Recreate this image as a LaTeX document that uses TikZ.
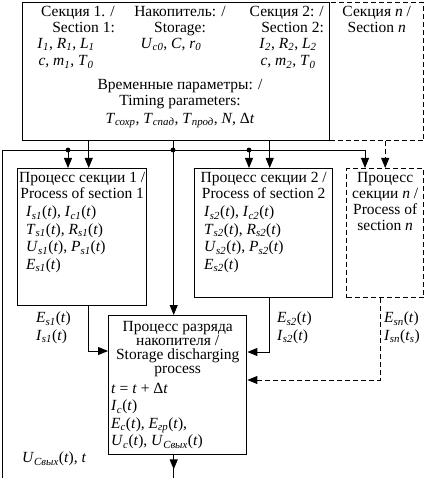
\documentclass[tikz,border=0pt]{standalone}
\usepackage{fontspec}
\setmainfont{Liberation Serif}
\usetikzlibrary{positioning,arrows.meta}
\newcommand\iv[2]{\textit{#1}\textsubscript{\itshape #2}}
\newcommand\ft{(\textit{t})}

\begin{document}
\begin{tikzpicture}[x=1pt, y=-1pt,
    box/.style={draw, line width=1.4pt, inner sep=0pt, anchor=north west},
    dbox/.style={box, dash pattern=on 5pt off 3pt},
    txt/.style={inner sep=0pt, align=center, font=\fontsize{15.5}{16}\selectfont},
    ltxt/.style={txt, align=left},
    vtxt/.style={txt, font=\fontsize{15.5}{17.5}\selectfont},
    lvtxt/.style={vtxt, align=left},
    con/.style={line width=0.9pt},
    arr/.style={con, -{Triangle[length=10pt, width=8pt]}},
    darr/.style={arr, dash pattern=on 5pt off 3pt},
    dot/.style={circle, fill, inner sep=1.7pt}]
  \useasboundingbox (0,0) rectangle (425,478);

  \node[box, minimum width=307pt, minimum height=138pt] (inp) at (22,2) {};
  \node[dbox, minimum width=94pt, minimum height=138pt] (inpn) at (329,2) {};
  \node[box, minimum width=129pt, minimum height=137pt] (p1) at (17,168) {};
  \node[box, minimum width=138pt, minimum height=129pt] (p2) at (194,168) {};
  \node[dbox, minimum width=77pt, minimum height=129pt] (pn) at (346,168) {};
  \node[box, minimum width=138pt, minimum height=139pt] (dis) at (108,315) {};

  \node[txt, align=right, anchor=north east] (s1h) at (115,6) {Секция 1. /\\Section 1:};
  \node[vtxt, anchor=north] (s1v) at (66,38) {\iv{I}{1}, \iv{R}{1}, \iv{L}{1}\\\textit{c}, \iv{m}{1}, \iv{T}{0}};
  \node[txt, anchor=north] (sth) at (180,6) {Накопитель: /\\Storage:};
  \node[txt, anchor=north] (stv) at (171,38) {\iv{U}{c0}, \textit{C}, \iv{r}{0}};
  \node[txt, align=right, anchor=north east] (s2h) at (324,6) {Секция 2: /\\Section 2:};
  \node[vtxt, anchor=north] (s2v) at (288,38) {\iv{I}{2}, \iv{R}{2}, \iv{L}{2}\\\textit{c}, \iv{m}{2}, \iv{T}{0}};
  \node[txt, anchor=north] (tmh) at (180,79) {Временные параметры: /\\Timing parameters:};
  \node[txt, anchor=north] (tmv) at (180,113) {\iv{T}{сохр}, \iv{T}{спад}, \iv{T}{прод}, \textit{N}, Δ\textit{t}};
  \node[txt, below=4pt of inpn.north] (snh) {Секция \textit{n} /\\Section \textit{n}};

  \node[txt, below=4pt of p1.north] (p1h) {Процесс секции 1 /\\Process of section 1};
  \node[lvtxt, below right=38pt and 9pt of p1.north west] (p1v)
    {\iv{I}{s1}\ft, \iv{I}{c1}\ft\\\iv{T}{s1}\ft, \iv{R}{s1}\ft\\\iv{U}{s1}\ft, \iv{P}{s1}\ft\\\iv{E}{s1}\ft};
  \node[txt, below=4pt of p2.north] (p2h) {Процесс секции 2 /\\Process of section 2};
  \node[lvtxt, below right=38pt and 10pt of p2.north west] (p2v)
    {\iv{I}{s2}\ft, \iv{I}{c2}\ft\\\iv{T}{s2}\ft, \iv{R}{s2}\ft\\\iv{U}{s2}\ft, \iv{P}{s2}\ft\\\iv{E}{s2}\ft};
  \node[txt, below=4pt of pn.north] (pnh) {Процесс\\секции \textit{n} /\\Process of\\section \textit{n}};
  \node[txt, below=6pt of dis.north, font=\fontsize{15.5}{14}\selectfont] (dish)
    {Процесс разряда\\накопителя /\\Storage discharging\\process};
  \node[lvtxt, below right=68pt and 3pt of dis.north west] (disv)
    {\textit{t} = \textit{t} + Δ\textit{t}\\\iv{I}{c}\ft\\\iv{E}{c}\ft, \iv{E}{гр}\ft,\\\iv{U}{c}\ft, \iv{U}{Свых}\ft};

  \node[lvtxt, anchor=north west] (e1) at (36,312) {\iv{E}{s1}\ft\\\iv{I}{s1}\ft};
  \node[lvtxt, anchor=north west] (e2) at (277,312) {\iv{E}{s2}\ft\\\iv{I}{s2}\ft};
  \node[lvtxt, anchor=north west] (en) at (384,312) {\iv{E}{sn}\ft\\\iv{I}{sn}(\iv{t}{s})};
  \node[ltxt, anchor=north west] (uo) at (22,452) {\iv{U}{Свых}\ft, \textit{t}};

  \coordinate (lc) at (2,150);
  \coordinate (j1) at (68,150);
  \coordinate (jm) at (173,150);
  \coordinate (j2) at (249,150);
  \coordinate (jn) at (365,150);

  \draw[arr] ([xshift=6.5pt]p1.north |- inp.south) -- ([xshift=6.5pt]p1.north);
  \draw[arr] ([xshift=6pt]p2.north |- inp.south) -- ([xshift=6pt]p2.north);
  \draw[darr] (pn.north |- inpn.south) -- (pn.north);
  \draw[arr] ([xshift=-4pt]dis.north |- inp.south) -- ([xshift=-4pt]dis.north);
  \draw[arr] ([xshift=-4pt]dis.south) -- ++(0,14);
  \draw[arr] ([xshift=-4pt]dis.south) -- ++(0,23) -| (lc) -- (jn) -- (jn |- pn.north);
  \draw[arr] (j1) -- (j1 |- p1.north);
  \draw[arr] (j2) -- (j2 |- p2.north);
  \node[dot] at (j1) {};
  \node[dot] at (jm) {};
  \node[dot] at (j2) {};

  \draw[arr] ([xshift=6.5pt]p1.south) |- (dis.west |- 0,351);
  \draw[arr] ([xshift=6pt]p2.south) |- (dis.east |- 0,352);
  \draw[darr] ([xshift=-5pt]pn.south) |- (dis.east |- 0,380);
\end{tikzpicture}
\end{document}
